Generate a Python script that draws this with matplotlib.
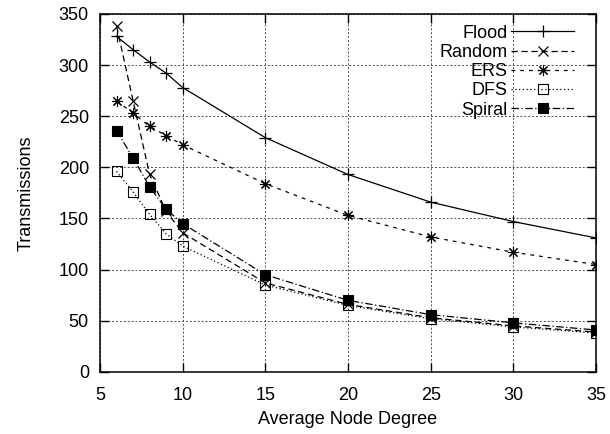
import matplotlib
matplotlib.use("Agg")
import matplotlib.pyplot as plt

plt.rcParams['font.family'] = ['Liberation Sans', 'DejaVu Sans']

degree = [6, 7, 8, 9, 10, 15, 20, 25, 30, 35]
flood = [328, 315, 303, 292, 278, 229, 193, 166, 147, 131]
random_walk = [338, 265, 193, 157, 136, 87, 66, 53, 45, 39]
ers = [265, 253, 240, 231, 222, 184, 153, 132, 117, 105]
dfs = [196, 176, 154, 135, 123, 85, 65, 52, 44, 38]
spiral = [236, 209, 181, 159, 145, 95, 70, 56, 48, 41]

x_ticks = [5, 10, 15, 20, 25, 30, 35]
y_ticks = [0, 50, 100, 150, 200, 250, 300, 350]

fig = plt.figure(figsize=(6.1, 4.34), dpi=100)
ax = fig.add_axes([0.164, 0.143, 0.813, 0.825])

lw = 0.9
ax.plot(degree, flood, color='black', lw=lw, ls='-', marker='+', ms=8, mew=0.9, label='Flood')
ax.plot(degree, random_walk, color='black', lw=lw, ls=(0, (5, 3)), marker='x', ms=6.5, mew=0.9, label='Random')
ax.plot(degree, ers, color='black', lw=lw, ls=(0, (3, 4)), marker=(8, 2, 0), ms=8, mew=0.8, label='ERS')
ax.plot(degree, dfs, color='black', lw=lw, ls=(0, (1, 2)), marker='s', ms=6.5, mew=0.8,
        markerfacecolor='none', label='DFS')
ax.plot(degree, spiral, color='black', lw=lw, ls=(0, (6, 2, 1, 2)), marker='s', ms=6.5, mew=0.8, label='Spiral')

ax.set_xlim(5, 35)
ax.set_ylim(0, 350)
ax.set_xticks(x_ticks)
ax.set_yticks(y_ticks)
ax.tick_params(direction='in', top=True, right=True, length=6.5, width=1.0, labelsize=13)
ax.tick_params(axis='x', pad=11)
ax.tick_params(axis='y', pad=8)
ax.grid(True, color='0.3', ls=(0, (2, 2)), lw=0.7)
for s in ax.spines.values():
    s.set_linewidth(1.1)

ax.set_xlabel('Average Node Degree', fontsize=13, labelpad=5)
ax.set_ylabel('Transmissions', fontsize=13, labelpad=17)

leg = ax.legend(loc='upper right', frameon=False, markerfirst=False, fontsize=13,
                handlelength=3.5, handletextpad=0.2, labelspacing=0.125,
                borderpad=0, borderaxespad=0, bbox_to_anchor=(0.956, 0.970))

fig.savefig('out.png', dpi=100)
